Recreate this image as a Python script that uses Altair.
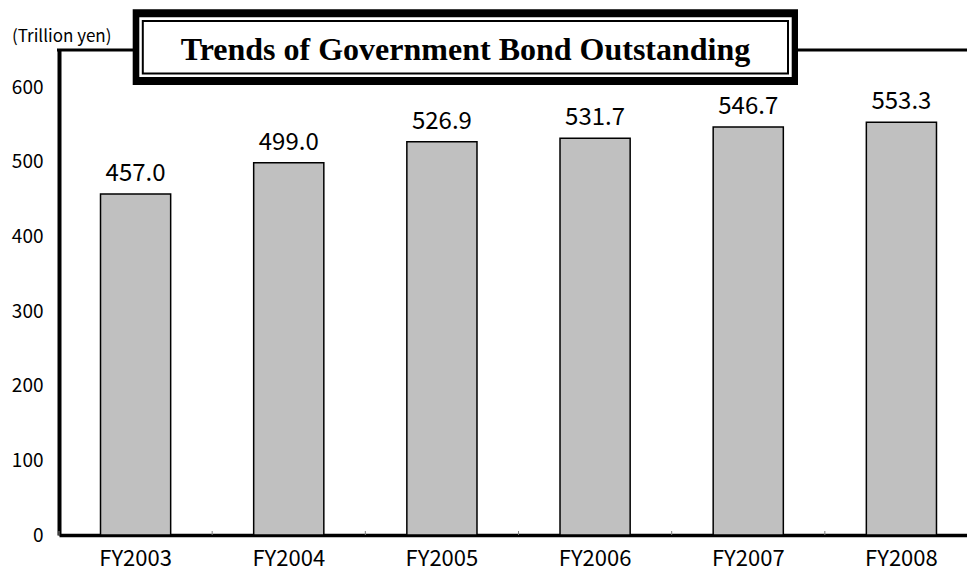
import altair as alt
import pandas as pd

years = ["FY2003", "FY2004", "FY2005", "FY2006", "FY2007", "FY2008"]
values = [457.0, 499.0, 526.9, 531.7, 546.7, 553.3]
y_ticks = [0, 100, 200, 300, 400, 500, 600]
title_text = "Trends of Government Bond Outstanding"
unit_text = "(Trillion yen)"

W, H = 908, 485
XR = 919
FONT = "Noto Sans CJK JP"

df = pd.DataFrame({"year": years, "value": values})
one = pd.DataFrame({"k": [0]})

xscale = alt.Scale(type="band", paddingInner=0, paddingOuter=0, range=[0, XR])
yscale = alt.Scale(domain=[0, 650], nice=False, zero=True)

x_axis = alt.Axis(
    title=None, labelAngle=0, labelFont=FONT, labelFontSize=22, labelColor="black",
    labelPadding=13, ticks=False, tickSize=0, domain=True, domainColor="black",
    domainWidth=3.5, grid=False,
)
y_axis = alt.Axis(
    title=None, values=y_ticks, labelFont=FONT, labelFontSize=19, labelColor="black",
    labelPadding=16, ticks=False, tickSize=0, domain=True, domainColor="black",
    domainWidth=4, grid=False,
)

bars = alt.Chart(df).mark_bar(
    fill="#C0C0C0", stroke="black", strokeWidth=1.5, width=alt.RelativeBandSize(0.458)
).encode(
    x=alt.X("year:N", scale=xscale, axis=x_axis, sort=years),
    y=alt.Y("value:Q", scale=yscale, axis=y_axis),
)

ticks = alt.Chart(df).mark_rule(color="#808080", strokeWidth=1).encode(
    x=alt.X("year:N", scale=xscale, sort=years, bandPosition=0),
    y=alt.value(H - 4),
    y2=alt.value(H),
)

labels = alt.Chart(df).mark_text(
    dy=-13, baseline="alphabetic", font=FONT, fontSize=24, color="black"
).encode(
    x=alt.X("year:N", scale=xscale, sort=years),
    y=alt.Y("value:Q", scale=yscale),
    text=alt.Text("value:Q", format=".1f"),
)

top_line = alt.Chart(one).mark_rule(color="black", strokeWidth=3).encode(
    x=alt.value(-2), x2=alt.value(W), y=alt.value(0)
)

box_outer = alt.Chart(one).mark_rect(color="black").encode(
    x=alt.value(73.7), x2=alt.value(739), y=alt.value(-40.7), y2=alt.value(35)
)
box_white = alt.Chart(one).mark_rect(color="white").encode(
    x=alt.value(80.3), x2=alt.value(732.7), y=alt.value(-32.7), y2=alt.value(27)
)
box_inner = alt.Chart(one).mark_rect(fill="white", stroke="black", strokeWidth=2).encode(
    x=alt.value(83.8), x2=alt.value(729), y=alt.value(-29), y2=alt.value(23.5)
)
title = alt.Chart(one).mark_text(
    text=title_text, font="Liberation Serif", fontWeight="bold", fontSize=32,
    color="black", align="center", baseline="alphabetic",
).encode(x=alt.value(406.5), y=alt.value(10))

unit = alt.Chart(one).mark_text(
    text=unit_text, font=FONT, fontSize=17, color="black", align="left",
    baseline="alphabetic",
).encode(x=alt.value(-47), y=alt.value(-8))

chart = alt.layer(
    top_line, bars, ticks, labels, box_outer, box_white, box_inner, title, unit
).properties(
    width=W, height=H,
    autosize=alt.AutoSizeParams(type="none"),
    padding={"left": 51, "top": 42, "right": 0, "bottom": 39},
).configure_view(stroke=None).configure(background="white")

chart.save("out.html", embed_options={"renderer": "svg", "actions": False})
